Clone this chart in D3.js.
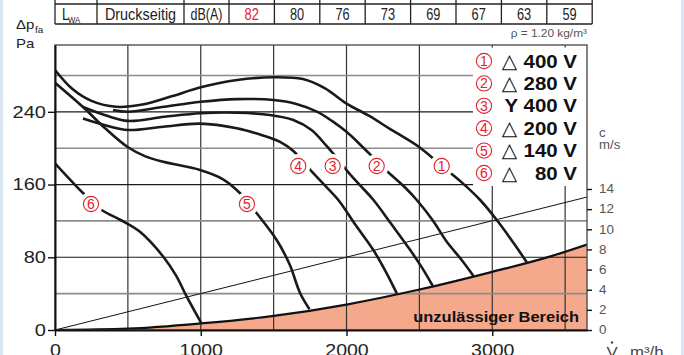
<!DOCTYPE html>
<html>
<head>
<meta charset="utf-8">
<title>Kennlinie</title>
<script src="https://cdn.jsdelivr.net/npm/d3@7/dist/d3.min.js"></script>
<style>
    html, body { margin: 0; padding: 0; background: #fff; }
    svg { display: block; font-family: "Liberation Sans", Arial, Helvetica, sans-serif; }
</style>
</head>
<body>
<div id="chartdiv"></div>
<script>
/*jslint browser, white */
/*global d3 */

//Values.  Volume flow in m3/h,
//pressure in Pa, air velocity in m/s.
var volumeTicks = [0, 1000, 2000, 3000],
    volumeGrid = [500, 1000, 1500, 2000, 2500, 3000, 3500],
    pressureTicks = [0, 80, 160, 240],
    pressureGrid = [40, 80, 120, 160, 200, 240, 280],
    velocityTicks = [0, 2, 4, 6, 8, 10, 12, 14],
    curveNumbers = ["1", "2", "3", "4", "5", "6"],
    curveConnections = ["△", "△", "Y", "△", "△", "△"],
    curveVoltages = ["400 V", "280 V", "400 V", "200 V", "140 V", "80 V"],
    curve1 = [[0, 286], [120, 265], [250, 252], [420, 245.5], [600, 248],
              [800, 257], [1000, 267], [1250, 275], [1500, 278], [1700, 276],
              [1850, 266], [2000, 249], [2150, 236], [2300, 221], [2500, 201],
              [2650, 181], [2800, 161], [2917, 143], [3031, 121], [3145, 96],
              [3237, 74.5]],
    curve2 = [[398, 242], [500, 240], [750, 245.5], [1000, 251], [1250, 254],
              [1500, 253], [1650, 249], [1800, 240], [1900, 230], [2000, 218],
              [2100, 203], [2207, 186], [2290, 173], [2400, 157], [2482, 143],
              [2590, 121], [2688, 97], [2790, 77], [2871, 59.5]],
    curve3 = [[192, 245.3], [350, 236], [501, 230], [750, 234.5], [1000, 238.4],
              [1250, 239], [1475, 236.5], [1635, 231], [1760, 220], [1860, 203],
              [1940, 188], [2020, 172], [2100, 158], [2185, 143], [2310, 116],
              [2437, 88], [2520, 68], [2592, 48.4]],
    curve4 = [[192, 232.7], [350, 225], [501, 220], [743, 223.6], [995, 227],
              [1247, 222], [1407, 215], [1544, 207], [1635, 197], [1740, 178],
              [1840, 161], [1944, 143], [2060, 116], [2184, 88], [2270, 64],
              [2345, 40.3]],
    curve5 = [[0, 272], [192, 245.3], [350, 221], [501, 201], [620, 191],
              [743, 185], [995, 176], [1150, 166], [1270, 150.4], [1384, 128.4],
              [1521, 99], [1610, 72], [1682, 40.4], [1746, 22.8]],
    curve6 = [[0, 183.4], [194, 150.4], [320, 132], [450, 121], [583, 108],
              [743, 80.6], [830, 60], [904, 36.6], [1002, 8]],
    curveLabelAt = [[2653, 180.4], [2207, 180.4], [1905, 180.4], [1669, 180.4],
                    [1317, 138.6], [247, 138.6]],
    limitCurve = [[0, 0], [500, 1.5], [1000, 7.2], [1500, 15.5], [2000, 28],
                  [2500, 44.5], [3000, 64], [3400, 81], [3650, 94]],
    velocityLine = [[0, 0], [3650, 13.2]],
    tableLabels = ["Druckseitig", "dB(A)"],
    soundLevels = [82, 80, 76, 73, 69, 67, 63, 59];


var app = (function () {
    "use strict";

    var red = "#e1232e",
        pl = {left: 55, right: 587, top: 45, bottom: 330},
        xs = d3.scaleLinear().domain([0, 3650]).range([pl.left, pl.right]),
        ys = d3.scaleLinear().domain([0, 313.5]).range([pl.bottom, pl.top]),
        cs = d3.scaleLinear().domain([0, 14]).range([pl.bottom, 189]);


    function stext (parent, x, y, str, sx) {
        //Helvetica in the original runs a little wider or narrower than
        //the installed fonts, so stretch horizontally around the anchor.
        return parent.append("text")
            .attr("transform", "translate(" + x + "," + y + ") scale(" +
                  (sx || 1) + ",1)")
            .text(str);
    }


    function circledNumber (parent, x, y, num, bg) {
        //red ring with the curve number inside, like the printed sheet
        var g = parent.append("g")
            .attr("transform", "translate(" + x + "," + y + ")");
        if(bg) {
            g.append("circle").attr("r", 12).attr("fill", "#fff"); }
        g.append("circle").attr("r", 7.6)
            .attr("fill", "none").attr("stroke", red).attr("stroke-width", 1.1);
        g.append("text").attr("y", 5)
            .attr("text-anchor", "middle")
            .attr("font-size", 14).attr("fill", red)
            .text(num);
        return g;
    }


    function drawFrame (svg) {
        svg.append("rect").attr("width", 684).attr("height", 355)
            .attr("fill", "#fff");
        svg.append("rect").attr("x", 0).attr("width", 3).attr("height", 355)
            .attr("fill", "#d9e6f2");
        svg.append("rect").attr("x", 681).attr("width", 3).attr("height", 355)
            .attr("fill", "#d9e6f2");
    }


    function drawTable (svg) {
        var g = svg.append("g").attr("class", "soundtable"),
            edges = [55, 97, 184, 229], i, cx;
        for(i = 1; i <= soundLevels.length; i += 1) {
            edges.push(229 + i * 45.4); }
        g.selectAll("line.tv").data(edges).enter().append("line")
            .attr("class", "tv")
            .attr("x1", function (d) { return d; })
            .attr("x2", function (d) { return d; })
            .attr("y1", -1).attr("y2", 24)
            .attr("stroke", "#222").attr("stroke-width", 1.3);
        [4, 24].forEach(function (y) {
            g.append("line").attr("x1", 55).attr("x2", edges[edges.length - 1])
                .attr("y1", y).attr("y2", y)
                .attr("stroke", "#222").attr("stroke-width", 1.3); });
        g.attr("font-size", 16).attr("fill", "#222");
        stext(g, 62, 20, "L", 0.82);
        stext(g, 68, 23, "WA", 0.82).attr("font-size", 9.5);
        stext(g, (edges[1] + edges[2]) / 2, 20, tableLabels[0], 0.9)
            .attr("text-anchor", "middle");
        stext(g, (edges[2] + edges[3]) / 2, 20, tableLabels[1], 0.78)
            .attr("text-anchor", "middle");
        soundLevels.forEach(function (v, idx) {
            cx = (edges[idx + 3] + edges[idx + 4]) / 2;
            stext(g, cx, 20, String(v), 0.8)
                .attr("text-anchor", "middle")
                .attr("fill", idx === 0 ? red : "#222"); });
    }


    function drawTitles (svg) {
        var g = svg.append("g").attr("fill", "#222");
        stext(g, 16, 29, "Δp", 1.15).attr("font-size", 13);
        stext(g, 35, 33, "fa", 1.1).attr("font-size", 9);
        stext(g, 16, 48, "Pa", 1.15).attr("font-size", 13);
        stext(g, 587, 37, "ρ = 1.20 kg/m³", 1.08)
            .attr("font-size", 11).attr("fill", "#555")
            .attr("text-anchor", "end");
        stext(g, 599, 137, "c", 1.1).attr("font-size", 12).attr("fill", "#555");
        stext(g, 599, 149, "m/s", 1.1).attr("font-size", 12)
            .attr("fill", "#555");
        stext(g, 612, 357, "V", 1.12).attr("font-size", 15)
            .attr("fill", "#444").attr("text-anchor", "middle");
        g.append("circle").attr("cx", 612).attr("cy", 342.5).attr("r", 1.2)
            .attr("fill", "#444");
        stext(g, 630, 357, "m³/h", 1.12).attr("font-size", 15)
            .attr("fill", "#444");
    }


    function drawGrid (g) {
        g.append("path")
            .datum(limitCurve)
            .attr("fill", "#f5a98c")
            .attr("d", d3.area()
                  .x(function (d) { return xs(d[0]); })
                  .y0(pl.bottom)
                  .y1(function (d) { return ys(d[1]); })
                  .curve(d3.curveMonotoneX));
        g.selectAll("line.vg").data(volumeGrid).enter().append("line")
            .attr("class", "vg")
            .attr("x1", xs).attr("x2", xs)
            .attr("y1", pl.top).attr("y2", pl.bottom)
            .attr("stroke", "#333").attr("stroke-width", 1.2);
        g.selectAll("line.hg").data(pressureGrid).enter().append("line")
            .attr("class", "hg")
            .attr("x1", pl.left).attr("x2", pl.right)
            .attr("y1", ys).attr("y2", ys)
            .attr("stroke", function (d) {
                return d % 80 === 0 ? "#1a1a1a" : "#8c8c8c"; })
            .attr("stroke-width", function (d) {
                return d % 80 === 0 ? 1.2 : 1.6; });
    }


    function drawCurves (g) {
        var curves = [curve1, curve2, curve3, curve4, curve5, curve6],
            line = d3.line()
                .x(function (d) { return xs(d[0]); })
                .y(function (d) { return ys(d[1]); });
        g.append("path")
            .datum(velocityLine)
            .attr("fill", "none").attr("stroke", "#111").attr("stroke-width", 1)
            .attr("d", d3.line()
                  .x(function (d) { return xs(d[0]); })
                  .y(function (d) { return cs(d[1]); }));
        g.append("path")
            .attr("fill", "none").attr("stroke", "#111")
            .attr("stroke-width", 2.2)
            .attr("d", line.curve(d3.curveMonotoneX)(limitCurve));
        line.curve(d3.curveCatmullRom.alpha(0.5));
        g.selectAll("path.fan").data(curves).enter().append("path")
            .attr("class", "fan")
            .attr("fill", "none").attr("stroke", "#1a1a1a")
            .attr("stroke-width", 2.6)
            .attr("d", line);
        //white patch behind each number so the curve breaks around it
        curveLabelAt.forEach(function (d, i) {
            circledNumber(g, xs(d[0]), ys(d[1]), curveNumbers[i], true); });
        g.append("text")
            .attr("transform", "translate(579,322) scale(1.1,1)")
            .attr("text-anchor", "end")
            .attr("font-size", 15).attr("font-weight", "bold")
            .attr("fill", "#111")
            .text("unzulässiger Bereich");
    }


    function drawLegend (svg) {
        var g = svg.append("g"), cy;
        g.append("rect").attr("x", 473).attr("y", 47.5)
            .attr("width", pl.right - 473).attr("height", 138.5)
            .attr("fill", "#fff");
        curveVoltages.forEach(function (volt, i) {
            cy = 61 + i * 22.4;
            circledNumber(g, 484, cy, curveNumbers[i], false);
            if(curveConnections[i] === "Y") {
                stext(g, 577, cy + 6.5, "Y " + volt, 1.1)
                    .attr("text-anchor", "end").attr("font-weight", "bold")
                    .attr("font-size", 18.6).attr("fill", "#111"); }
            else {
                g.append("text").attr("x", 509.5).attr("y", cy + 6.5)
                    .attr("text-anchor", "middle")
                    .attr("font-family", "'DejaVu Sans', sans-serif")
                    .attr("font-size", 20).attr("fill", "#111")
                    .text(curveConnections[i]);
                stext(g, 577, cy + 6.5, volt, 1.1)
                    .attr("text-anchor", "end").attr("font-weight", "bold")
                    .attr("font-size", 18.6).attr("fill", "#111"); } });
    }


    function styleAxis (g, color, size, sx, xfix, yfix) {
        g.selectAll("text")
            .attr("fill", color).attr("font-size", size)
            .attr("font-family", "'Liberation Sans', Arial, sans-serif")
            .each(function () {
                var t = d3.select(this);
                if(xfix !== null) { t.attr("x", xfix / sx); }
                if(yfix !== null) { t.attr("y", yfix); }
                t.attr("transform", "scale(" + sx + ",1)"); });
        g.selectAll("line").attr("stroke", "#111").attr("stroke-width", 1.4);
    }


    function drawAxes (svg) {
        var ga, gb, gc;
        svg.append("rect").attr("x", pl.left).attr("y", pl.top)
            .attr("width", pl.right - pl.left)
            .attr("height", pl.bottom - pl.top)
            .attr("fill", "none").attr("stroke", "#444")
            .attr("stroke-width", 1.3);
        ga = svg.append("g").attr("transform", "translate(" + pl.left + ",0)")
            .call(d3.axisLeft(ys).tickValues(pressureTicks)
                  .tickSize(7).tickSizeOuter(0));
        styleAxis(ga, "#222", 17, 1.18, -9, null);
        ga.select(".domain").attr("stroke", "#111").attr("stroke-width", 2);
        gb = svg.append("g").attr("transform", "translate(0," + pl.bottom + ")")
            .call(d3.axisBottom(xs).tickValues(volumeTicks)
                  .tickSize(6).tickSizeOuter(0)
                  .tickFormat(d3.format("d")));
        styleAxis(gb, "#222", 17, 1.15, 0, 13.5);
        gb.select(".domain").attr("stroke", "#111").attr("stroke-width", 2);
        gc = svg.append("g").attr("transform", "translate(" + pl.right + ",0)")
            .call(d3.axisRight(cs).tickValues(velocityTicks)
                  .tickSize(5).tickSizeOuter(0));
        styleAxis(gc, "#555", 12, 1.12, 12, null);
        gc.select(".domain").remove();
    }


    function display () {
        var svg, plotg;
        svg = d3.select("#chartdiv").append("svg")
            .attr("width", 684).attr("height", 355);
        drawFrame(svg);
        drawTable(svg);
        drawTitles(svg);
        svg.append("clipPath").attr("id", "plotclip").append("rect")
            .attr("x", pl.left).attr("y", pl.top)
            .attr("width", pl.right - pl.left)
            .attr("height", pl.bottom - pl.top);
        plotg = svg.append("g").attr("clip-path", "url(#plotclip)");
        drawGrid(plotg);
        drawCurves(plotg);
        drawLegend(svg);
        drawAxes(svg);
    }


return {
    init: function () {
        display();
    }
};
}());

app.init();
</script>
</body>
</html>
